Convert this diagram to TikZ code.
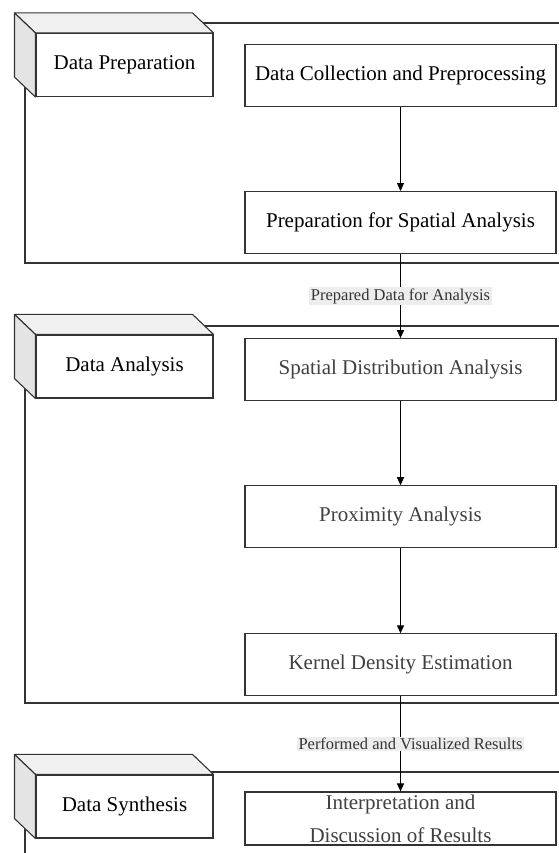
\documentclass[tikz,border=0pt]{standalone}
\usepackage{fontspec}
\setmainfont{Liberation Serif}
\usetikzlibrary{arrows.meta,positioning,calc}

\definecolor{linegray}{HTML}{333333}
\definecolor{topgray}{HTML}{F0F0F0}
\definecolor{sidegray}{HTML}{E4E4E4}
\definecolor{labelgray}{HTML}{EDEDED}

\tikzset{
  stepbox/.style={draw=linegray, line width=1.1pt, fill=white, inner sep=0pt,
    minimum width=311pt, minimum height=62pt, font=\fontsize{21}{25}\selectfont},
  pkgfront/.style={draw=linegray, line width=1.1pt, fill=white, inner sep=0pt,
    minimum width=177pt, minimum height=63pt, font=\fontsize{21}{25}\selectfont},
  pkgface/.style={draw=linegray, line width=1.1pt, line join=round},
  frameline/.style={draw=linegray, line width=1.1pt},
  flowarrow/.style={draw=black, line width=1.1pt, -{Triangle[length=8pt,width=7pt]}},
  flowlabel/.style={fill=labelgray, inner sep=1.5pt, text=black!80,
    font=\fontsize{16.5}{19}\selectfont}
}

\begin{document}
\begin{tikzpicture}[x=1pt, y=1pt]
  \useasboundingbox (0,0) rectangle (558,853);

  % group frames
  \draw[frameline] (25,830) rectangle (565,590);
  \draw[frameline] (25,527) rectangle (565,150);
  \draw[frameline] (25,81) rectangle (565,-10);

  % package boxes
  \node[pkgfront] (prep) at (124.5,788) {Data Preparation};
  \node[pkgfront] (anal) at (124.5,486.5) {Data Analysis};
  \node[pkgfront] (synth) at (124.5,46.5) {Data Synthesis};
  \foreach \p in {prep,anal,synth} {
    \draw[pkgface, fill=topgray] (\p.north west) -- ++(-21,20)
      -- ($(\p.north east)+(-21,20)$) -- (\p.north east) -- cycle;
    \draw[pkgface, fill=sidegray] (\p.north west) -- ++(-21,20)
      -- ($(\p.south west)+(-21,20)$) -- (\p.south west) -- cycle;
  }

  % process steps
  \node[stepbox] (dc) at (400.5,777.5) {Data Collection and Preprocessing};
  \node[stepbox, below=84pt of dc] (psa) {Preparation for Spatial Analysis};
  \node[stepbox, below=84pt of psa, text=black!75] (sda) {Spatial Distribution Analysis};
  \node[stepbox, below=84pt of sda, text=black!75] (pa) {Proximity Analysis};
  \node[stepbox, below=85pt of pa, text=black!75] (kde) {Kernel Density Estimation};
  \node[stepbox, below=95pt of kde, minimum height=53pt, text=black!75, align=center,
    font=\fontsize{21}{33}\selectfont] (idr) {Interpretation and\\Discussion of Results};

  % connectors
  \draw[flowarrow] (dc) -- (psa);
  \draw[flowarrow] (psa) -- node[flowlabel] {Prepared Data for Analysis} (sda);
  \draw[flowarrow] (sda) -- (pa);
  \draw[flowarrow] (pa) -- (kde);
  \draw[flowarrow] (kde) -- node[flowlabel, xshift=10pt] {Performed and Visualized Results} (idr);
\end{tikzpicture}
\end{document}
